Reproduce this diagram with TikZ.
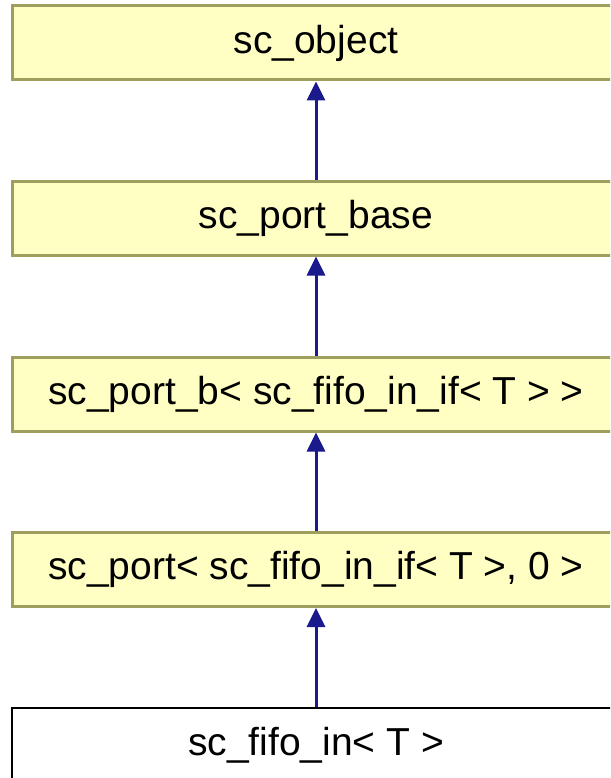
\documentclass[tikz,border=0pt]{standalone}
\usepackage{fontspec}
\setmainfont{Liberation Sans}
\usetikzlibrary{arrows.meta}
\definecolor{boxfill}{RGB}{255,255,195}
\definecolor{boxline}{RGB}{158,158,94}
\definecolor{arrowblue}{RGB}{26,26,140}
\begin{document}
\begin{tikzpicture}[x=1pt,y=1pt,
  classbox/.style={draw=boxline, fill=boxfill, line width=3pt, minimum width=608pt, minimum height=74pt, inner sep=0pt, font=\fontsize{39}{44}\selectfont},
  mainbox/.style={draw=black, fill=white, line width=2.5pt, minimum width=608pt, minimum height=74pt, inner sep=0pt, font=\fontsize{39}{44}\selectfont},
  inherit/.style={draw=arrowblue, line width=3pt, -{Triangle[width=18pt,length=19pt]}}]
\useasboundingbox (0,0) rectangle (610,-778);
\clip (0,0) rectangle (610,-778);
\node[classbox] (obj) at (316,-43) {sc\_object};
\node[classbox] (base) at (316,-218) {sc\_port\_base};
\node[classbox] (portb) at (316,-394) {sc\_port\_b< sc\_fifo\_in\_if< T > >};
\node[classbox] (port) at (316,-569.5) {sc\_port< sc\_fifo\_in\_if< T >, 0 >};
\node[mainbox] (fifo) at (316,-745) {sc\_fifo\_in< T >};
\draw[inherit] (base.north) -- (obj.south);
\draw[inherit] (portb.north) -- (base.south);
\draw[inherit] (port.north) -- (portb.south);
\draw[inherit] (fifo.north) -- (port.south);
\end{tikzpicture}
\end{document}
